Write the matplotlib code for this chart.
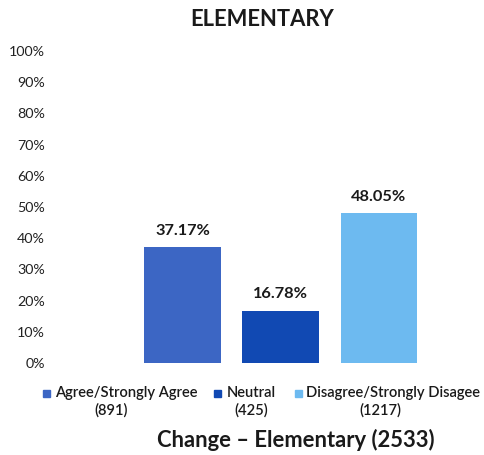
import matplotlib
matplotlib.use("Agg")
import matplotlib.pyplot as plt
from matplotlib.patches import Rectangle

categories = ["Agree/Strongly Agree", "Neutral", "Disagree/Strongly Disagee"]
counts = ["(891)", "(425)", "(1217)"]
values = [37.17, 16.78, 48.05]
colors = ["#3C66C4", "#1149B3", "#6DBAF0"]
yticks = list(range(0, 101, 10))
title = "ELEMENTARY"
xlabel = "Change \u2013 Elementary (2533)"

plt.rcParams['font.family'] = ['Lato', 'DejaVu Sans']

W, H = 484, 455
fig = plt.figure(figsize=(W / 100, H / 100), dpi=100)

def px(x, y):
    return x / W, 1 - y / H

ax_left, ax_right = 52, 470
ax_top, ax_bot = 51, 363
ax = fig.add_axes([ax_left / W, 1 - ax_bot / H, (ax_right - ax_left) / W, (ax_bot - ax_top) / H])
step = 98.25
x0 = -(182.5 - ax_left) / step
x1 = 2 + (ax_right - 379) / step
ax.set_xlim(x0, x1)
ax.set_ylim(0, 100)

xs = list(range(len(values)))
ax.bar(xs, values, width=0.78, color=colors)
for x, v in zip(xs, values):
    ax.text(x, v + 3, f"{v:.2f}%", ha='center', va='bottom', fontsize=11.8,
            fontweight='bold', color='#1a1a1a')

ax.set_yticks(yticks)
ax.set_yticklabels([f"{t}%" for t in yticks], fontsize=10.3, color='#222222')
ax.tick_params(axis='y', length=0, pad=5)
ax.set_xticks([])
for s in ax.spines.values():
    s.set_visible(False)

fig.text(*px(262, 19), title, ha='center', va='center', fontsize=15.8,
         fontweight='bold', color='#1a1a1a')
fig.text(*px(296, 440), xlabel, ha='center', va='center', fontsize=15.8,
         fontweight='bold', color='#1a1a1a')

leg_marker_x = [43, 214, 295]
leg_text_x = [55, 227, 306]
leg_count_x = [111, 251, 380]
for mx, tx, cx, c, lab, cnt in zip(leg_marker_x, leg_text_x, leg_count_x, colors, categories, counts):
    mxf, myf = px(mx, 397)
    fig.patches.append(Rectangle((mxf, myf), 7 / W, 7 / H, transform=fig.transFigure,
                                 color=c, figure=fig))
    fig.text(*px(tx, 393), lab, ha='left', va='center', fontsize=10.6, color='#1a1a1a',
             fontweight='semibold')
    fig.text(*px(cx, 410), cnt, ha='center', va='center', fontsize=10.6, color='#1a1a1a',
             fontweight='semibold')

fig.savefig("out.png", dpi=100)
